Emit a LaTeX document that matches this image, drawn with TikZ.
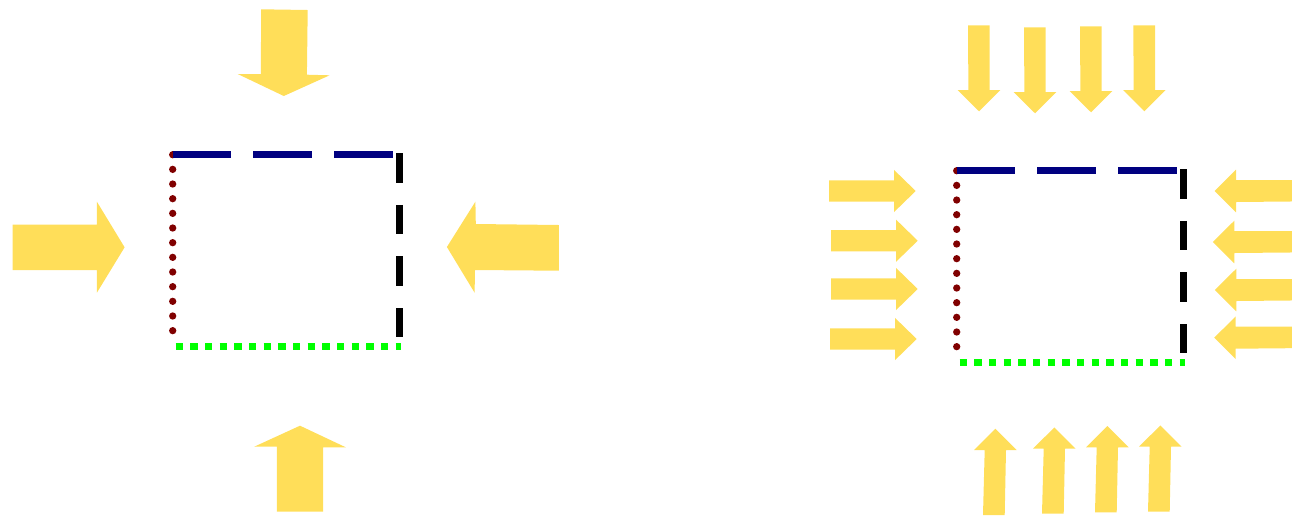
\documentclass[tikz,border=0pt]{standalone}
\usepackage{tikz}
\definecolor{forceyellow}{RGB}{255,222,89}
\definecolor{topnavy}{RGB}{0,0,128}
\definecolor{leftmaroon}{RGB}{128,0,0}
\definecolor{bottomgreen}{RGB}{0,255,0}

\begin{document}
\begin{tikzpicture}[x=0.02cm, y=-0.02cm,
    force/.style = {fill=forceyellow},
    topside/.style = {draw=topnavy, line width=0.14cm, dash pattern=on 1.174cm off 0.44cm},
    rightside/.style = {draw=black, line width=0.14cm, dash pattern=on 0.586cm off 0.446cm},
    leftside/.style = {draw=leftmaroon, line width=0.146cm, line cap=round, dash pattern=on 0cm off 0.2933cm},
    bottomside/.style = {draw=bottomgreen, line width=0.146cm, dash pattern=on 0.1467cm off 0.1467cm}]
    \useasboundingbox (0,0) rectangle (1292,515);
    \clip (0,0) rectangle (1292,515);

    % the two squares
    \foreach \dx/\dy in {0/0, 784/16} {
      \begin{scope}[shift={(\dx,\dy)}]
        \draw[leftside] (172.7,154.7) -- (172.7,331.5);
        \draw[topside] (172.7,154.7) -- (392.7,154.7);
        \draw[rightside] (399.3,153.3) -- (399.3,337);
        \draw[bottomside] (175.7,346.7) -- (400.7,346.7);
      \end{scope}
    }

    % one big arrow on each side
    \fill[force] (261.2,9.3) -- (307.7,10) -- (306.9,74.7) -- (329.6,75.3) -- (283.8,96) -- (237.7,74) -- (260.8,74) -- cycle;
    \fill[force] (12.7,224.7) -- (96.9,224.7) -- (96.9,201.7) -- (124.6,247.3) -- (96.9,292.7) -- (96.9,270) -- (12.7,270) -- cycle;
    \fill[force] (558.8,225) -- (475.8,224) -- (475.4,201.7) -- (446.9,247) -- (474.6,292.7) -- (475,270) -- (558.8,270.7) -- cycle;
    \fill[force] (300,425.7) -- (345.8,447.3) -- (323.1,447.3) -- (323.1,511.7) -- (276.9,511.7) -- (276.9,446.7) -- (254.2,446.7) -- cycle;

    % four small arrows on each side
    \foreach \x/\y in {968/25.3, 1024/27.3, 1080/26.3, 1133.3/25.3}
      \fill[force] (\x,\y) -- ++(21.7,0) -- ++(0,64.7) -- ++(10.7,0) -- ++(-21.35,21.3) -- ++(-21.35,-21.3) -- ++(10.7,0) -- cycle;
    \foreach \x/\y in {983/515, 1042/513.7, 1095/512.3, 1148/511.7}
      \fill[force] (\x,\y) -- ++(21.7,0) -- ++(1.3,-65) -- ++(10.7,0) -- ++(-21.35,-21.3) -- ++(-21.35,21.3) -- ++(10.7,0) -- cycle;
    \foreach \x/\y in {829/180.3, 831/230, 831/278.3, 830/328.3}
      \fill[force] (\x,\y) -- ++(65,0) -- ++(0,-10.4) -- ++(21.7,21.1) -- ++(-21.7,21.1) -- ++(0,-10.4) -- ++(-65,0) -- cycle;
    \foreach \x/\y in {1236/180, 1234.3/231, 1236.3/279, 1235.7/326.7}
      \fill[force] (1300,\y) -- (\x,\y) -- ++(0,-10.3) -- ++(-21.5,21.3) -- ++(21.5,21.3) -- ++(0,-10.3) -- ({1300},{\y+21.4}) -- cycle;
\end{tikzpicture}
\end{document}
